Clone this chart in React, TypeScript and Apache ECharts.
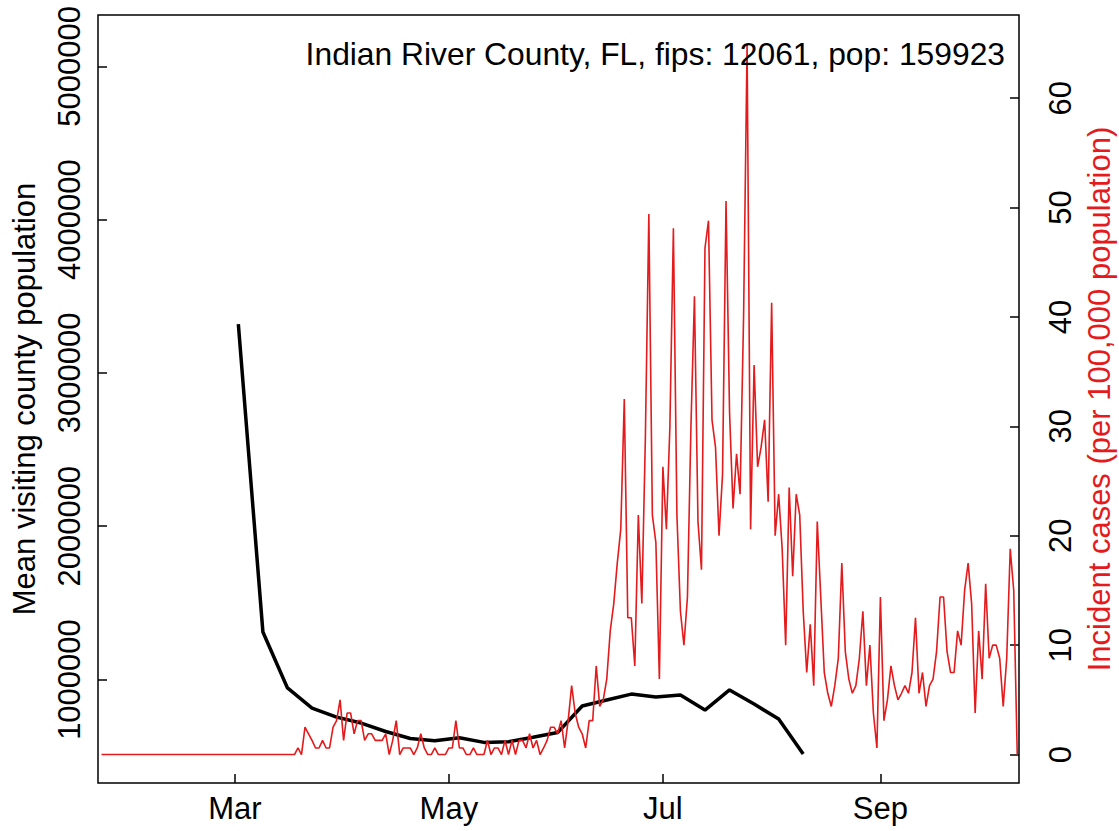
import React, { useEffect, useRef } from "react";
import * as echarts from "echarts";

// ---------- data ----------
const chartTitle = "Indian River County, FL, fips: 12061, pop: 159923";
const leftAxisTitle = "Mean visiting county population";
const rightAxisTitle = "Incident cases (per 100,000 population)";

// daily incident cases per 100,000, starting on caseStartDate
const caseStartDate = "2020-01-23";
const incidentCases = [
  0, 0, 0, 0, 0, 0, 0, 0, 0, 0, 0, 0, 0, 0, 0, 0, 0, 0, 0, 0,
  0, 0, 0, 0, 0, 0, 0, 0, 0, 0, 0, 0, 0, 0, 0, 0, 0, 0, 0, 0,
  0, 0, 0, 0, 0, 0, 0, 0, 0, 0, 0, 0, 0, 0, 0, 0,
  0.6, 0, 2.5, 1.9, 1.3, 0.6, 0.6, 1.3, 0.6, 0.6,
  2.5, 3.1, 5.0, 1.3, 3.8, 3.8, 1.9, 3.1, 3.1, 1.3,
  1.9, 1.9, 1.3, 1.3, 1.3, 1.9, 0, 1.3, 3.1, 0,
  0.6, 0.6, 0.6, 0, 0.6, 1.9, 0.6, 0, 0, 0.6,
  0, 0, 0, 0.6, 0.6, 3.1, 0.6, 0.6, 0, 0,
  0.6, 0, 0, 0, 1.3, 0, 0.6, 0.6, 0, 1.3,
  0, 1.3, 0, 1.3, 1.3, 0.6, 1.9, 0.6, 1.3, 0,
  0.6, 1.3, 2.5, 2.5, 1.9, 3.1, 0.6, 3.1, 6.3, 3.8,
  2.5, 1.9, 0.6, 3.1, 3.1, 8.1, 4.4, 5.0, 6.9, 11.3,
  13.8, 17.5, 20.6, 32.5, 12.5, 12.5, 8.1, 21.9, 13.8, 28.8,
  49.4, 21.9, 19.4, 6.9, 26.3, 20.6, 30.0, 48.1, 21.9, 13.1,
  10.0, 14.4, 30.0, 41.9, 21.3, 16.9, 46.3, 48.8, 30.6, 28.1,
  20.0, 25.6, 50.6, 31.3, 22.5, 27.5, 23.8, 40.0, 65.0, 20.6,
  35.6, 26.3, 28.1, 30.6, 23.1, 41.3, 20.0, 23.8, 18.8, 10.0,
  24.4, 16.3, 23.8, 21.9, 13.1, 7.5, 11.9, 6.3, 21.3, 14.4,
  7.5, 5.6, 4.4, 6.3, 8.8, 17.5, 9.4, 6.9, 5.6, 6.3,
  8.8, 13.1, 6.3, 10.0, 3.8, 0.6, 14.4, 3.1, 5.0, 8.1,
  6.3, 5.0, 5.6, 6.3, 5.6, 7.5, 12.5, 5.6, 7.5, 4.4,
  6.3, 6.9, 9.4, 14.4, 14.4, 9.4, 7.5, 7.5, 11.3, 10.0,
  15.0, 17.5, 13.8, 3.8, 11.3, 6.9, 15.6, 8.8, 10.0, 10.0,
  8.8, 4.4, 8.8, 18.8, 15.0, 0,
];

// weekly mean visiting county population
const mobilityWeeks = [
  "2020-03-02", "2020-03-09", "2020-03-16", "2020-03-23", "2020-03-30",
  "2020-04-06", "2020-04-13", "2020-04-20", "2020-04-27", "2020-05-04",
  "2020-05-11", "2020-05-18", "2020-05-25", "2020-06-01", "2020-06-08",
  "2020-06-15", "2020-06-22", "2020-06-29", "2020-07-06", "2020-07-13",
  "2020-07-20", "2020-07-27", "2020-08-03", "2020-08-10",
];
const mobilityMean = [
  3319000, 1310000, 945000, 814000, 755000,
  716000, 661000, 615000, 601000, 620000,
  590000, 594000, 623000, 654000, 827000,
  866000, 905000, 886000, 899000, 801000,
  932000, 840000, 742000, 514000,
];

const monthTickDates = ["2020-03-01", "2020-05-01", "2020-07-01", "2020-09-01"];
const monthTickLabels = ["Mar", "May", "Jul", "Sep"];
const leftTicks = [1000000, 2000000, 3000000, 4000000, 5000000];
const rightTicks = [0, 10, 20, 30, 40, 50, 60];

// axis ranges
const xStartDate = "2020-01-22";
const xEndDate = "2020-10-10T12:00:00Z";
const leftRange = [325000, 5335000];
const rightRange = [-2.6, 67.6];

// ---------- helpers ----------
const DAY = 86400000;
const ts = (s: string) => Date.parse(s.length === 10 ? s + "T00:00:00Z" : s);

const FONT = "'Liberation Sans', Arial, Helvetica, sans-serif";
const RED = "#E41A1C";

export default function App() {
  const ref = useRef<HTMLDivElement | null>(null);

  useEffect(() => {
    if (!ref.current) return;
    const chart = echarts.init(ref.current, undefined, { renderer: "svg" });

    const caseStart = ts(caseStartDate);
    const caseData = incidentCases.map((v, i) => [caseStart + i * DAY, v]);
    const mobData = mobilityWeeks.map((d, i) => [ts(d), mobilityMean[i]]);
    const monthTs = monthTickDates.map(ts);
    const labelFor = (v: number) => {
      const idx = monthTs.findIndex((t) => Math.abs(t - v) < DAY / 2);
      return idx >= 0 ? monthTickLabels[idx] : "";
    };

    const tickLine = { color: "#000", width: 1.5 };

    chart.setOption({
      animation: false,
      backgroundColor: "#fff",
      title: {
        text: chartTitle,
        right: 114,
        top: 38,
        padding: 0,
        textStyle: {
          fontSize: 31.8,
          fontWeight: "normal",
          fontFamily: FONT,
          color: "#000",
        },
      },
      grid: {
        left: 98,
        right: 100,
        top: 15,
        bottom: 48,
        containLabel: false,
        outerBoundsMode: "none",
        show: true,
        borderColor: "#000",
        borderWidth: 1.5,
        backgroundColor: "transparent",
      },
      xAxis: {
        type: "value",
        min: ts(xStartDate),
        max: ts(xEndDate),
        axisLine: { show: false, onZero: false },
        splitLine: { show: false },
        axisTick: {
          show: true,
          inside: true,
          length: 9,
          lineStyle: tickLine,
          customValues: monthTs,
        },
        axisLabel: {
          customValues: monthTs,
          formatter: (v: number) => labelFor(v),
          fontSize: 31,
          fontFamily: FONT,
          color: "#000",
          margin: 10,
        },
      },
      yAxis: [
        {
          type: "value",
          position: "left",
          min: leftRange[0],
          max: leftRange[1],
          axisLine: { show: false, onZero: false },
          splitLine: { show: false },
          axisTick: {
            show: true,
            inside: true,
            length: 9,
            lineStyle: tickLine,
            customValues: leftTicks,
          },
          axisLabel: {
            customValues: leftTicks,
            rotate: 90,
            formatter: (v: number) => String(v),
            fontSize: 31,
            fontFamily: FONT,
            color: "#000",
            margin: 13,
          },
          name: leftAxisTitle,
          nameLocation: "middle",
          nameRotate: 90,
          nameGap: 58,
          nameTextStyle: { fontSize: 31, fontFamily: FONT, color: "#000" },
        },
        {
          type: "value",
          position: "right",
          min: rightRange[0],
          max: rightRange[1],
          axisLine: { show: false, onZero: false },
          splitLine: { show: false },
          axisTick: {
            show: true,
            inside: true,
            length: 9,
            lineStyle: tickLine,
            customValues: rightTicks,
          },
          axisLabel: {
            customValues: rightTicks,
            rotate: 90,
            formatter: (v: number) => String(v),
            fontSize: 31,
            fontFamily: FONT,
            color: "#000",
            margin: 26,
          },
          name: rightAxisTitle,
          nameLocation: "middle",
          nameRotate: 90,
          nameGap: 62,
          nameTextStyle: { fontSize: 31, fontFamily: FONT, color: RED },
        },
      ],
      series: [
        {
          name: "mobility",
          type: "line",
          yAxisIndex: 0,
          data: mobData,
          showSymbol: false,
          symbol: "none",
          lineStyle: { color: "#000", width: 3.5 },
          z: 2,
        },
        {
          name: "cases",
          type: "line",
          yAxisIndex: 1,
          data: caseData,
          showSymbol: false,
          symbol: "none",
          lineStyle: { color: RED, width: 1.6 },
          z: 3,
        },
      ],
    });

    return () => chart.dispose();
  }, []);

  return (
    <div
      ref={ref}
      style={{ position: "absolute", left: 0, top: 0, width: 1119, height: 831 }}
    />
  );
}
